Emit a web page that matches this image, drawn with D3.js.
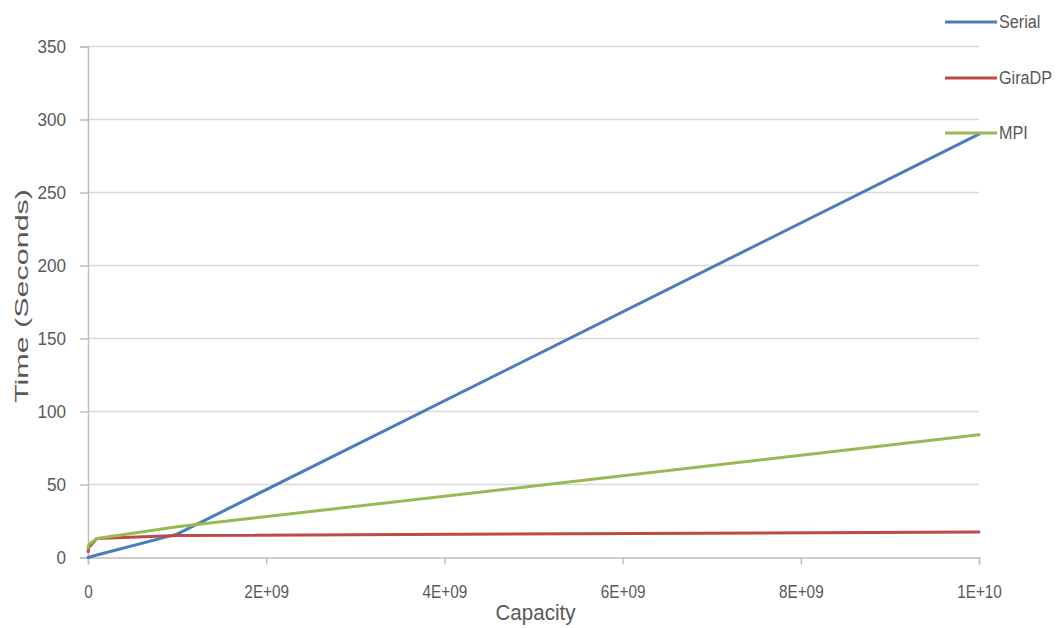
<!DOCTYPE html>
<html>
<head>
<meta charset="utf-8">
<script src="https://cdn.jsdelivr.net/npm/d3@7"></script>
<style>
  html, body { margin: 0; padding: 0; background: #fff; }
  svg { display: block; }
  text { font-family: "Liberation Sans", Arial, sans-serif; fill: #595959; }
</style>
</head>
<body>
<svg id="chart" width="1064" height="628"></svg>
<script>
// Problem capacities (x) and run times in seconds for each implementation
const capacities = [1e6, 1e7, 1e8, 1e9, 1e10];
const serialTimes = [0.02, 0.2, 1.7, 16, 290];
const giradpTimes = [4, 7, 13, 15, 17.5];
const mpiTimes = [6.5, 9, 13, 21, 84];

const seriesNames = ["Serial", "GiraDP", "MPI"];
const seriesColors = ["#4a7ebb", "#be4b48", "#98b954"];

const xTickValues = [0, 2e9, 4e9, 6e9, 8e9, 1e10];
const xTickLabels = ["0", "2E+09", "4E+09", "6E+09", "8E+09", "1E+10"];
const yTickValues = [0, 50, 100, 150, 200, 250, 300, 350];

const svg = d3.select("#chart");
const margin = { left: 88, right: 86, top: 46.5, bottom: 70.5 };
const W = 1064, H = 628;

const x = d3.scaleLinear().domain([0, 1e10]).range([margin.left, W - margin.right + 1]);
const y = d3.scaleLinear().domain([0, 350]).range([H - margin.bottom, margin.top]);

// squeeze a text element horizontally, Calibri-like narrow glyphs
function condense(sel, factor) {
  sel.each(function () {
    const len = this.getComputedTextLength();
    d3.select(this)
      .attr("textLength", len * factor)
      .attr("lengthAdjust", "spacingAndGlyphs");
  });
}

// horizontal gridlines
svg.append("g")
  .selectAll("line")
  .data(yTickValues.slice(1))
  .join("line")
  .attr("x1", x(0)).attr("x2", x(1e10))
  .attr("y1", d => y(d)).attr("y2", d => y(d))
  .attr("stroke", "#d9d9d9").attr("stroke-width", 1.5);

// y axis
const yAxis = svg.append("g")
  .attr("transform", `translate(${x(0)},0)`)
  .call(d3.axisLeft(y).tickValues(yTickValues).tickSize(8).tickPadding(14));
yAxis.select(".domain").attr("stroke", "#bfbfbf").attr("stroke-width", 1.5);
yAxis.selectAll(".tick line").attr("stroke", "#bfbfbf").attr("stroke-width", 1.5);
yAxis.selectAll(".tick text")
  .style("font-size", "18px")
  .attr("fill", "#595959")
  .call(condense, 0.95);

// x axis
const xAxis = svg.append("g")
  .attr("transform", `translate(0,${y(0)})`)
  .call(d3.axisBottom(x).tickValues(xTickValues)
    .tickFormat((d, i) => xTickLabels[i]).tickSize(7).tickPadding(21));
xAxis.select(".domain").attr("stroke", "#bfbfbf").attr("stroke-width", 1.5);
xAxis.selectAll(".tick line").attr("stroke", "#bfbfbf").attr("stroke-width", 1.5);
xAxis.selectAll(".tick text")
  .style("font-size", "18px")
  .attr("fill", "#595959")
  .call(condense, 0.85);

// axis titles
svg.append("text")
  .attr("x", (x(0) + x(1e10)) / 2 + 2)
  .attr("y", 620)
  .attr("text-anchor", "middle")
  .style("font-size", "22px")
  .attr("textLength", 80)
  .attr("lengthAdjust", "spacingAndGlyphs")
  .text("Capacity");

svg.append("text")
  .attr("transform", `translate(28,296) rotate(-90)`)
  .attr("text-anchor", "middle")
  .style("font-size", "19px")
  .attr("textLength", 214)
  .attr("lengthAdjust", "spacingAndGlyphs")
  .text("Time (Seconds)");

// series lines
const series = [serialTimes, giradpTimes, mpiTimes];
const line = d3.line()
  .x((d, i) => x(capacities[i]))
  .y(d => y(d));

svg.append("g")
  .selectAll("path")
  .data(series)
  .join("path")
  .attr("d", d => line(d))
  .attr("fill", "none")
  .attr("stroke", (d, i) => seriesColors[i])
  .attr("stroke-width", 3)
  .attr("stroke-linejoin", "round")
  .attr("stroke-linecap", "round");

// legend
const legendY = [22, 78, 133];
const lg = svg.append("g")
  .selectAll("g")
  .data(seriesNames)
  .join("g")
  .attr("transform", (d, i) => `translate(945,${legendY[i]})`);
lg.append("line")
  .attr("x1", 0).attr("x2", 52)
  .attr("stroke", (d, i) => seriesColors[i])
  .attr("stroke-width", 3);
lg.append("text")
  .attr("x", 54)
  .attr("dy", "0.35em")
  .style("font-size", "18px")
  .text(d => d)
  .call(condense, 0.9);
</script>
</body>
</html>
